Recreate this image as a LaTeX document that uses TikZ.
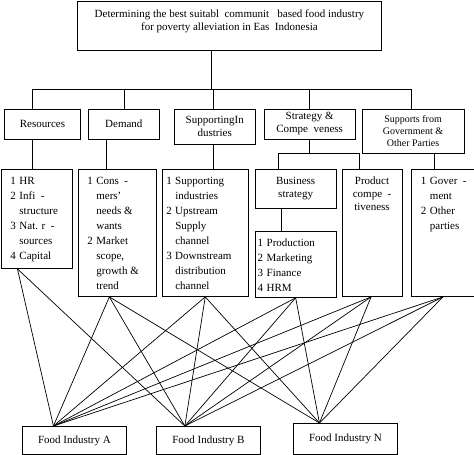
\documentclass[tikz,border=0pt]{standalone}
\usepackage{fontspec}
\setmainfont{Liberation Serif}
\usetikzlibrary{positioning}

\tikzstyle{block} = [rectangle, draw=black, line width=0.9pt, align=center, inner sep=0pt, font=\fontsize{11}{13}\selectfont]
\tikzstyle{listbox} = [rectangle, draw=black, line width=0.9pt, inner sep=0pt, anchor=north west, font=\fontsize{11}{15}\selectfont]
\tikzstyle{food} = [rectangle, draw=black, line width=0.9pt, minimum width=104pt, minimum height=28pt, anchor=north west, font=\fontsize{11}{13}\selectfont]
\tikzstyle{link} = [line width=0.7pt]

\newcommand{\fixbox}[3]{\parbox[t][#2][t]{#1}{#3}}
\newcommand{\numlist}[2]{\vspace*{5pt}\hspace*{#1}\begin{tabular}[t]{@{}r@{\hspace{3.5pt}}l@{}}#2\end{tabular}}

\begin{document}
\begin{tikzpicture}[x=1pt, y=-1pt]
		\useasboundingbox (0,0) rectangle (474,455);

		% Nodes
		\node (goal) [block, anchor=north west] at (77,1) {\fixbox{304pt}{49pt}{\centering\vspace*{8pt}Determining the best suitabl\ \ communit\ \ \ based food industry\\for poverty alleviation in Eas\ \ Indonesia}};

		\node (res) [block, minimum width=76pt, minimum height=30pt, anchor=north west] at (4,108.5) {Resources};
		\node (dem) [block, minimum width=71pt, minimum height=30pt, right=7pt of res.north east, anchor=north west] {Demand};
		\node (sup) [block, minimum width=81pt, minimum height=35pt, right=14pt of dem.north east, anchor=north west] {SupportingIn\\dustries};
		\node (strat) [block, minimum width=91pt, minimum height=30pt, right=8pt of sup.north east, anchor=north west] {Strategy \&\\Compe\ \ veness};
		\node (gov) [block, minimum width=102pt, minimum height=44pt, right=6pt of strat.north east, anchor=north west, font=\fontsize{10}{12}\selectfont] {Supports from\\Government \&\\Other Parties};

		\node (resL) [listbox] at (1,169) {\fixbox{71pt}{99pt}{\numlist{9pt}{1 & HR\\2 & Infi\ \ -\\ & structure\\3 & Nat. r\ \ -\\ & sources\\4 & Capital}}};
		\node (demL) [listbox, right=5pt of resL.north east, anchor=north west] {\fixbox{78pt}{127pt}{\numlist{9pt}{1 & Cons\ \ -\\ & mers'\\ & needs \&\\ & wants\\2 & Market\\ & scope,\\ & growth \&\\ & trend}}};
		\node (supL) [listbox, right=5pt of demL.north east, anchor=north west] {\fixbox{86pt}{127pt}{\numlist{4pt}{1 & Supporting\\ & industries\\2 & Upstream\\ & Supply\\ & channel\\3 & Downstream\\ & distribution\\ & channel}}};

		\node (bizS) [block, minimum width=81pt, minimum height=39pt, right=6pt of supL.north east, anchor=north west] {Business\\strategy};
		\node (bizL) [listbox, below=22pt of bizS, anchor=north] {\fixbox{81pt}{66pt}{\numlist{2.5pt}{1 & Production\\2 & Marketing\\3 & Finance\\4 & HRM}}};
		\node (prod) [listbox, right=5pt of bizS.north east, anchor=north west, font=\fontsize{11}{13}\selectfont] {\fixbox{60pt}{127pt}{\centering\vspace*{7pt}Product\\compe\ \ -\\tiveness}};
		\node (govL) [listbox, right=8pt of prod.north east, anchor=north west] {\fixbox{67pt}{127pt}{\numlist{10pt}{1 & Gover\ \ -\\ & ment\\2 & Other\\ & parties}}};

		\node (fA) [food] at (22,426) {Food Industry A};
		\node (fB) [food, right=29pt of fA.north east, anchor=north west] {Food Industry B};
		\node (fN) [food, minimum height=31pt] at (293,423) {Food Industry N};

		% Tree lines
		\draw [link] ([xshift=-18pt]goal.south) -- ++(0,38) coordinate (bus);
		\draw [link] ([xshift=-10pt]res.north) |- (bus) -| ([xshift=-2pt]gov.north);
		\draw [link] (dem.north) -- (dem.north |- bus);
		\draw [link] ([xshift=-1.5pt]sup.north) -- ([xshift=-1.5pt]sup.north |- bus);
		\draw [link] (strat.north) -- (strat.north |- bus);

		\draw [link] ([xshift=-10pt]res.south) -- ([xshift=-10pt]res.south |- resL.north);
		\draw [link] ([xshift=-17.5pt]dem.south) -- ([xshift=-17.5pt]dem.south |- demL.north);
		\draw [link] ([xshift=-1.5pt]sup.south) -- ([xshift=-1.5pt]sup.south |- supL.north);
		\draw [link] (strat.south) -- ++(0,14) coordinate (sbus);
		\draw [link] ([xshift=-17.5pt]bizS.north) |- (sbus) -| ([xshift=-13pt]prod.north);
		\draw [link] ([xshift=-14.5pt]bizS.south) -- ([xshift=-14.5pt]bizS.south |- bizL.north);
		\draw [link] ([xshift=21pt]gov.south) -- ([xshift=21pt]gov.south |- govL.north);

		% Links to food industries
		\coordinate (inA) at ([xshift=-21pt]fA.north);
		\coordinate (inB) at ([xshift=-23.5pt]fB.north);
		\coordinate (inN) at ([xshift=-26pt]fN.north);

		\draw [link] ([xshift=-19.5pt]resL.south) -- (inA);
		\draw [link] ([xshift=-19.5pt]resL.south) -- (inB);
		\foreach \src/\dx in {demL/-8pt, supL/0pt, bizL/0pt, prod/-1pt, govL/-1.5pt}
			\foreach \dst in {inA, inB, inN}
				\draw [link] ([xshift=\dx]\src.south) -- (\dst);
\end{tikzpicture}
\end{document}
